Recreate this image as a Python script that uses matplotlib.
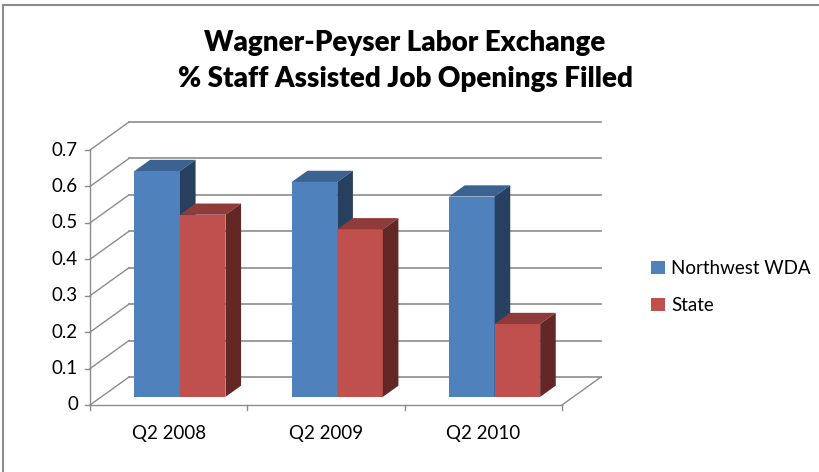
import numpy as np
import matplotlib.pyplot as plt
from matplotlib.patches import Polygon, Patch
from matplotlib.lines import Line2D

# data
categories = ["Q2 2008", "Q2 2009", "Q2 2010"]
series_names = ["Northwest WDA", "State"]
northwest = [0.62, 0.59, 0.55]
state = [0.50, 0.46, 0.20]
yticks = [0, 0.1, 0.2, 0.3, 0.4, 0.5, 0.6, 0.7]

# colours: front, top, side
blue = ("#4F81BD", "#3C6291", "#28405F")
red = ("#C0504D", "#8F3B39", "#632826")
grid_c = "#8C8C8C"

plt.rcParams["font.family"] = ["Lato", "DejaVu Sans"]

W, H = 819, 472
fig = plt.figure(figsize=(W / 100, H / 100), dpi=100)
ax = fig.add_axes([0, 0, 1, 1])

# pixel layout of the front plane: x 90..562 for 3 categories, y 0 at 405, 0.7 at 150
px_u = (562 - 90) / 3
px_v = (405 - 150) / 0.7
ax.set_xlim(-90 / px_u, (W - 90) / px_u)
ax.set_ylim((405 - H) / px_v, 405 / px_v)
ax.axis("off")

# oblique depth vector (whole floor depth)
Dx, Dy = 39 / px_u, 28 / px_v
f0 = 0.29   # depth at which bar fronts sit
fd = 0.40   # bar depth
bw = 45.5 / px_u
n = len(categories)

# back wall gridlines + side wall diagonals + left axis ticks
for t in yticks:
    ax.plot([Dx, n + Dx], [t + Dy, t + Dy], color=grid_c, lw=1.2, zorder=1)
    ax.plot([0, Dx], [t, t + Dy], color=grid_c, lw=1, zorder=1)
    ax.plot([-5 / px_u, 0], [t, t], color=grid_c, lw=1, zorder=1)
    ax.text(-12 / px_u, t, f"{t:g}", ha="right", va="center", fontsize=13.5)
ax.plot([0, 0], [0, yticks[-1]], color=grid_c, lw=1, zorder=1)

# floor
ax.plot([0, n], [0, 0], color=grid_c, lw=1, zorder=1)
ax.plot([n, n + Dx], [0, Dy], color=grid_c, lw=1, zorder=1)
for i in range(n + 1):
    ax.plot([i, i], [0, -5 / px_v], color=grid_c, lw=1, zorder=1)
for i, c in enumerate(categories):
    ax.text(i + 0.5, -28 / px_v, c, ha="center", va="center", fontsize=13.5)


def bar3d(x0, val, cols):
    x0 = x0 + f0 * Dx
    y0 = f0 * Dy
    x1 = x0 + bw
    top = val + y0
    ddx, ddy = fd * Dx, fd * Dy
    ax.add_patch(Polygon([(x0, y0), (x1, y0), (x1, top), (x0, top)],
                         closed=True, facecolor=cols[0], edgecolor="none", zorder=3))
    ax.add_patch(Polygon([(x0, top), (x1, top), (x1 + ddx, top + ddy), (x0 + ddx, top + ddy)],
                         closed=True, facecolor=cols[1], edgecolor="none", zorder=3))
    ax.add_patch(Polygon([(x1, y0), (x1 + ddx, y0 + ddy), (x1 + ddx, top + ddy), (x1, top)],
                         closed=True, facecolor=cols[2], edgecolor="none", zorder=3))


for i in range(n):
    bar3d(i + 0.5 - bw, northwest[i], blue)
    bar3d(i + 0.5, state[i], red)

# title
fig.text(405 / W, 1 - 43 / H, "Wagner-Peyser Labor Exchange", ha="center", va="center",
         fontsize=20, fontweight="heavy")
fig.text(405 / W, 1 - 79 / H, "% Staff Assisted Job Openings Filled", ha="center", va="center",
         fontsize=20, fontweight="heavy")

# legend
handles = [Patch(facecolor=blue[0]), Patch(facecolor=red[0])]
fig.legend(handles, series_names, loc="upper left", bbox_to_anchor=(642 / W, 1 - 251 / H),
           frameon=False, fontsize=13.5, handlelength=0.7, handleheight=0.7,
           handletextpad=0.35, labelspacing=1.05, borderpad=0)

# chart area border (top and left only visible)
fig.add_artist(Line2D([3 / W, 1], [1 - 5 / H, 1 - 5 / H], color="#8C8C8C", lw=1.5))
fig.add_artist(Line2D([3 / W, 3 / W], [0, 1 - 5 / H], color="#8C8C8C", lw=1.5))

fig.savefig("out.png", dpi=100, facecolor="white")
